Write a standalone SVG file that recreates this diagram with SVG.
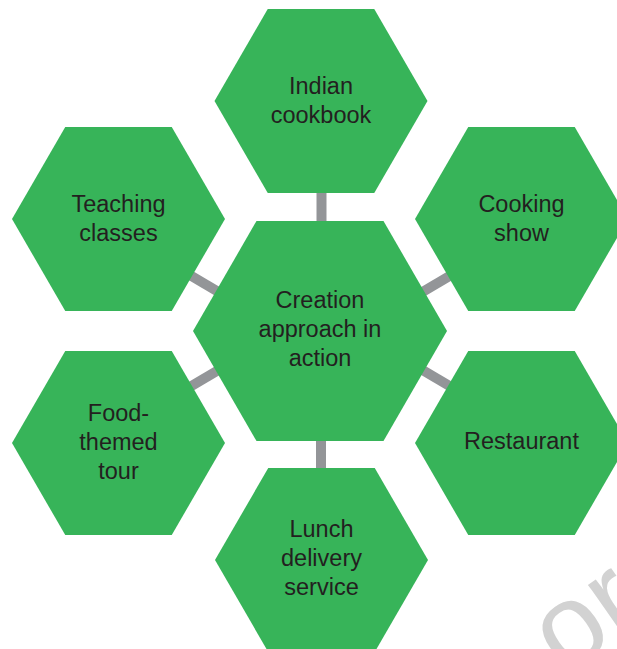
<svg xmlns="http://www.w3.org/2000/svg" xmlns:xlink="http://www.w3.org/1999/xlink" width="617" height="649" viewBox="0 0 617 649">
<style>
.hex{fill:#37b459;}
.lbl{font-family:"Liberation Sans",Arial,Helvetica,sans-serif;font-size:23.5px;fill:#231f20;text-anchor:middle;}
.conn{stroke:#939598;stroke-width:10;fill:none;}
.wm{font-family:"Liberation Sans",Arial,sans-serif;font-size:115px;fill:#d2d2d2;}
</style>
<defs>
<polygon id="hexS" points="-106.5,0 -53.25,-92 53.25,-92 106.5,0 53.25,92 -53.25,92"/>
<polygon id="hexL" points="-127,0 -63.5,-110 63.5,-110 127,0 63.5,110 -63.5,110"/>
</defs>
<rect width="617" height="649" fill="#ffffff"/>
<text class="wm" transform="translate(564,676) rotate(-35)">or</text>
<g id="connectors">
<line class="conn" x1="321.5" y1="185" x2="321.5" y2="230"/>
<line class="conn" x1="321" y1="432" x2="321" y2="476"/>
<line class="conn" x1="183" y1="271" x2="227" y2="297"/>
<line class="conn" x1="183" y1="391" x2="227" y2="365"/>
<line class="conn" x1="458" y1="271" x2="414" y2="297"/>
<line class="conn" x1="458" y1="391" x2="414" y2="365"/>
</g>
<g id="node-center">
<use xlink:href="#hexL" class="hex" x="320" y="331"/>
<text class="lbl" x="320" y="308">Creation</text>
<text class="lbl" x="320" y="337">approach in</text>
<text class="lbl" x="320" y="366">action</text>
</g>
<g id="node-indian-cookbook">
<use xlink:href="#hexS" class="hex" x="321" y="101"/>
<text class="lbl" x="321" y="94">Indian</text>
<text class="lbl" x="321" y="123">cookbook</text>
</g>
<g id="node-teaching-classes">
<use xlink:href="#hexS" class="hex" x="118.5" y="219"/>
<text class="lbl" x="118.5" y="212">Teaching</text>
<text class="lbl" x="118.5" y="240.5">classes</text>
</g>
<g id="node-cooking-show">
<use xlink:href="#hexS" class="hex" x="521.5" y="219"/>
<text class="lbl" x="521.5" y="212">Cooking</text>
<text class="lbl" x="521.5" y="240.5">show</text>
</g>
<g id="node-food-themed-tour">
<use xlink:href="#hexS" class="hex" x="118.5" y="443"/>
<text class="lbl" x="118.5" y="421">Food-</text>
<text class="lbl" x="118.5" y="450">themed</text>
<text class="lbl" x="118.5" y="479">tour</text>
</g>
<g id="node-restaurant">
<use xlink:href="#hexS" class="hex" x="521.5" y="443"/>
<text class="lbl" x="521.5" y="449">Restaurant</text>
</g>
<g id="node-lunch-delivery">
<use xlink:href="#hexS" class="hex" x="321.5" y="560"/>
<text class="lbl" x="321.5" y="537">Lunch</text>
<text class="lbl" x="321.5" y="566">delivery</text>
<text class="lbl" x="321.5" y="595">service</text>
</g>
</svg>
